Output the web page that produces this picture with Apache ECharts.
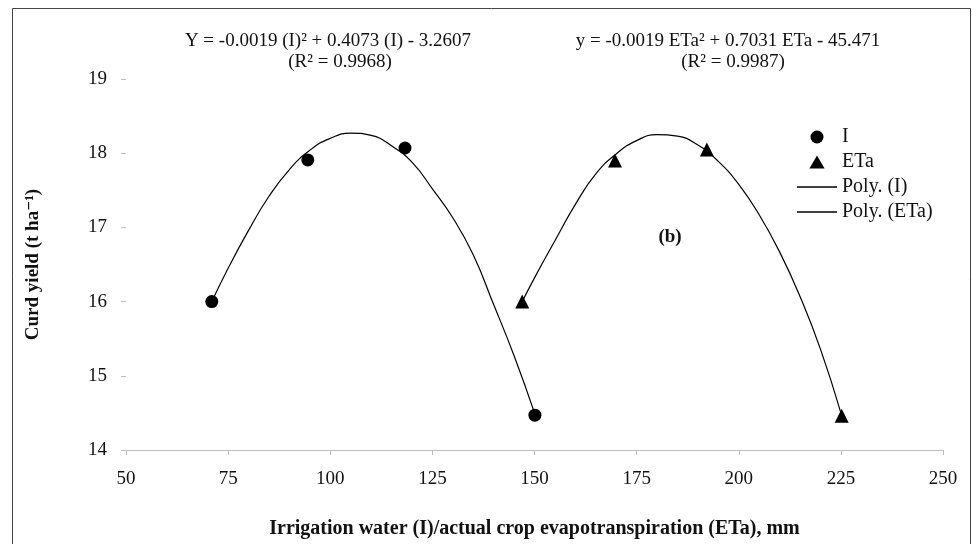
<!DOCTYPE html>
<html>
<head>
<meta charset="utf-8">
<script src="https://cdn.jsdelivr.net/npm/echarts@6/dist/echarts.min.js"></script>
<style>
  html, body { margin: 0; padding: 0; background: #fff; }
  #chart { width: 972px; height: 544px; }
</style>
</head>
<body>
<div id="chart"></div>
<script>
    // measured points (irrigation water I and ETa, mm) vs curd yield
    var irrigX = [71, 94.5, 118.3, 150.1];
    var irrigY = [16.0, 17.91, 18.07, 14.47];
    var etaX = [147, 169.7, 192.2, 225.2];
    var etaY = [16.0, 17.9, 18.05, 14.46];

    // trend lines, estimated off the figure every 5 mm
    var polyIX = [71, 75, 80, 85, 90, 95, 100, 105, 110, 115, 120, 125, 130, 135, 140, 145, 150];
    var polyIY = [16.0, 16.45, 16.96, 17.42, 17.78, 18.04, 18.20, 18.27, 18.24, 18.10, 17.88, 17.52, 17.13, 16.63, 15.96, 15.27, 14.5];
    var polyEX = [147, 150, 155, 160, 165, 170, 175, 180, 185, 190, 195, 200, 205, 210, 215, 220, 225];
    var polyEY = [16.0, 16.32, 16.82, 17.31, 17.72, 17.99, 18.17, 18.25, 18.23, 18.11, 17.89, 17.58, 17.17, 16.67, 16.07, 15.36, 14.5];

    var xTicks = [50, 75, 100, 125, 150, 175, 200, 225, 250];
    var yTicks = [14, 15, 16, 17, 18, 19];

    var eqI = 'Y = -0.0019 (I)² + 0.4073 (I) - 3.2607';
    var r2I = '(R² = 0.9968)';
    var eqE = 'y = -0.0019 ETa² + 0.7031 ETa - 45.471';
    var r2E = '(R² = 0.9987)';

    function pairs(xs, ys) {
        return xs.map(function (x, i) { return [x, ys[i]]; });
    }

    var font = '"Liberation Serif", "DejaVu Serif", serif';
    var lineIcon = 'path://M0,0 L40,0 L40,1.3 L0,1.3 Z';
    var triIcon = 'path://M7,0 L14,12 L0,12 Z';
    var myChart = echarts.init(document.getElementById('chart'));

    var option = {
        animation: false,
        backgroundColor: '#fff',
        textStyle: { fontFamily: font },
        grid: { left: 126, right: 29, top: 79, bottom: 87 },
        graphic: [
            { type: 'rect', shape: { x: 12.5, y: 8.5, width: 958, height: 600 },
              style: { fill: 'none', stroke: '#444', lineWidth: 1 }, silent: true },
            { type: 'text', x: 328, y: 41, style: { text: eqI, font: '19px ' + font, fill: '#111', textAlign: 'center', textVerticalAlign: 'middle' } },
            { type: 'text', x: 340, y: 62, style: { text: r2I, font: '19px ' + font, fill: '#111', textAlign: 'center', textVerticalAlign: 'middle' } },
            { type: 'text', x: 728, y: 41, style: { text: eqE, font: '19px ' + font, fill: '#111', textAlign: 'center', textVerticalAlign: 'middle' } },
            { type: 'text', x: 733, y: 62, style: { text: r2E, font: '19px ' + font, fill: '#111', textAlign: 'center', textVerticalAlign: 'middle' } },
            { type: 'text', x: 670, y: 237, style: { text: '(b)', font: 'bold 19px ' + font, fill: '#111', textAlign: 'center', textVerticalAlign: 'middle' } }
        ],
        legend: {
            orient: 'vertical',
            left: 792,
            top: 122,
            itemWidth: 40,
            itemHeight: 13,
            itemGap: 5,
            textStyle: { fontFamily: font, fontSize: 20, color: '#111' },
            data: [
                { name: 'I', icon: 'circle' },
                { name: 'ETa', icon: triIcon },
                { name: 'Poly. (I)', icon: lineIcon },
                { name: 'Poly. (ETa)', icon: lineIcon }
            ]
        },
        xAxis: {
            type: 'value',
            min: 50,
            max: 250,
            interval: 25,
            name: 'Irrigation water (I)/actual crop evapotranspiration (ETa), mm',
            nameLocation: 'middle',
            nameGap: 69,
            nameTextStyle: { fontFamily: font, fontSize: 20, fontWeight: 'bold', color: '#111' },
            axisLine: { lineStyle: { color: '#bfbfbf' } },
            axisTick: { show: true, length: 5, lineStyle: { color: '#bfbfbf' } },
            axisLabel: { fontFamily: font, fontSize: 19, color: '#111', margin: 20,
                formatter: function (v) { return xTicks.indexOf(v) >= 0 ? v : ''; } },
            splitLine: { show: false }
        },
        yAxis: {
            type: 'value',
            min: 14,
            max: 19,
            interval: 1,
            name: 'Curd yield (t ha⁻¹)',
            nameLocation: 'middle',
            nameGap: 83,
            nameTextStyle: { fontFamily: font, fontSize: 19, fontWeight: 'bold', color: '#111' },
            axisLine: { show: false },
            axisTick: { show: true, length: 5, lineStyle: { color: '#bfbfbf' } },
            axisLabel: { fontFamily: font, fontSize: 19, color: '#111', margin: 19,
                formatter: function (v) { return yTicks.indexOf(v) >= 0 ? v : ''; } },
            splitLine: { show: false }
        },
        series: [
            {
                name: 'I', type: 'scatter', symbol: 'circle', symbolSize: 13,
                itemStyle: { color: '#000', opacity: 1 }, z: 5,
                data: pairs(irrigX, irrigY)
            },
            {
                name: 'ETa', type: 'scatter', symbol: 'triangle', symbolSize: 14,
                itemStyle: { color: '#000', opacity: 1 }, z: 5,
                data: pairs(etaX, etaY)
            },
            {
                name: 'Poly. (I)', type: 'line', symbol: 'none', smooth: true,
                lineStyle: { color: '#000', width: 1.2 }, itemStyle: { color: '#000' },
                data: pairs(polyIX, polyIY)
            },
            {
                name: 'Poly. (ETa)', type: 'line', symbol: 'none', smooth: true,
                lineStyle: { color: '#000', width: 1.2 }, itemStyle: { color: '#000' },
                data: pairs(polyEX, polyEY)
            }
        ]
    };

    myChart.setOption(option);
</script>
</body>
</html>
